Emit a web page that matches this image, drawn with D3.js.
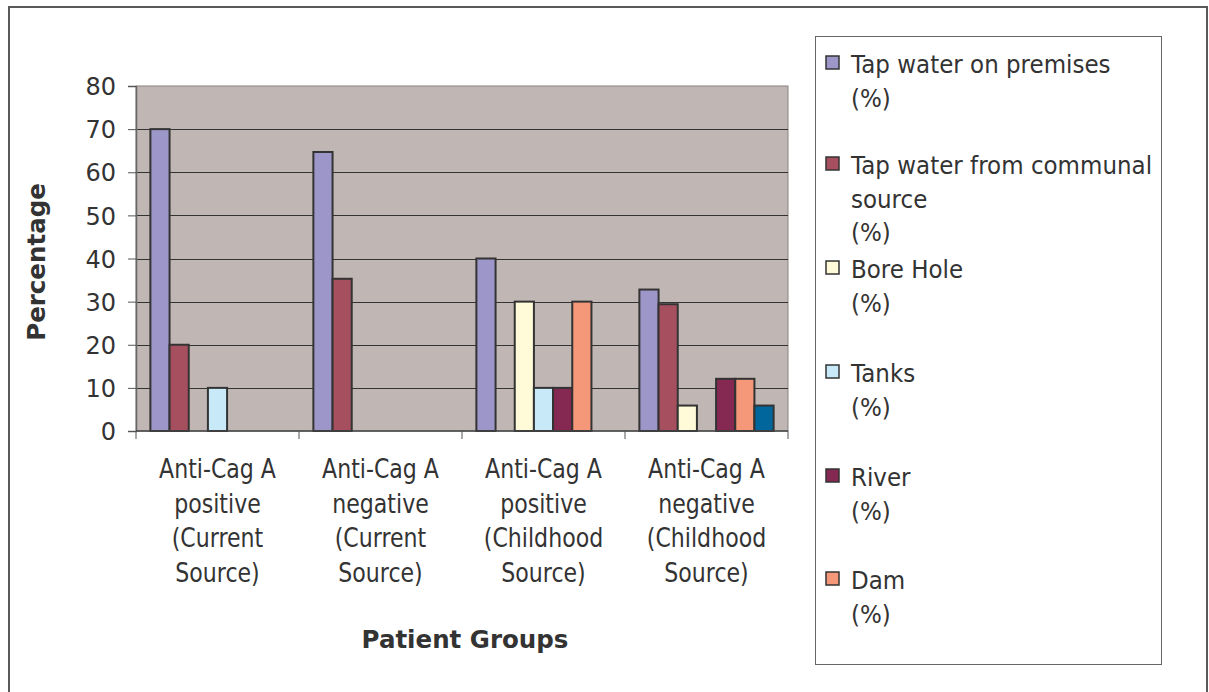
<!DOCTYPE html>
<html>
<head>
<meta charset="utf-8">
<script src="https://cdn.jsdelivr.net/npm/d3@7"></script>
<style>
  html, body { margin: 0; padding: 0; background: #fff; }
  svg { display: block; }
  text { font-family: "DejaVu Sans", Verdana, sans-serif; fill: #333; }
</style>
</head>
<body>
<svg id="chart" width="1209" height="692"></svg>
<script>
// patient groups on the x axis (each label wraps over four lines)
const groups = ['g1', 'g2', 'g3', 'g4'];
const groupLabels = [
  ['Anti-Cag A', 'positive', '(Current', 'Source)'],
  ['Anti-Cag A', 'negative', '(Current', 'Source)'],
  ['Anti-Cag A', 'positive', '(Childhood', 'Source)'],
  ['Anti-Cag A', 'negative', '(Childhood', 'Source)']
];

// water sources, the 7th one is not shown in the legend (cut off in the original)
const sources = ['Tap water on premises', 'Tap water from communal source', 'Bore Hole', 'Tanks', 'River', 'Dam', 'Other'];
const legendLines = [
  ['Tap water on premises', '(%)'],
  ['Tap water from communal', 'source', '(%)'],
  ['Bore Hole', '(%)'],
  ['Tanks', '(%)'],
  ['River', '(%)'],
  ['Dam', '(%)']
];
const colors = ['#9d97c9', '#a6505f', '#fffbd8', '#c8e9f8', '#852952', '#f59779', '#00669b'];

// percentages per source, one value per group
const tapPremises  = [70, 64.7, 40, 32.8];
const tapCommunal  = [20, 35.3, 0, 29.4];
const boreHole     = [0, 0, 30, 5.9];
const tanks        = [10, 0, 10, 0];
const river        = [0, 0, 10, 12.1];
const dam          = [0, 0, 30, 12.1];
const other        = [0, 0, 0, 5.9];
const seriesValues = [tapPremises, tapCommunal, boreHole, tanks, river, dam, other];

const yTicks = [0, 10, 20, 30, 40, 50, 60, 70, 80];

const svg = d3.select('#chart');

// outer chart frame
svg.append('rect')
  .attr('x', 9).attr('y', 7)
  .attr('width', 1198).attr('height', 700)
  .attr('fill', '#fff')
  .attr('stroke', '#5a5a5a')
  .attr('stroke-width', 2);

const plot = { left: 136, right: 788, top: 86, bottom: 431 };

const y = d3.scaleLinear().domain([0, 80]).range([plot.bottom, plot.top]);
const x = d3.scaleBand().domain(groups).range([plot.left, plot.right]);
const xs = d3.scaleBand().domain(sources).range([0, x.bandwidth()]).paddingOuter(0.75);

// plot background
svg.append('rect')
  .attr('x', plot.left).attr('y', plot.top)
  .attr('width', plot.right - plot.left).attr('height', plot.bottom - plot.top)
  .attr('fill', '#c0b7b5')
  .attr('stroke', '#8a8282')
  .attr('stroke-width', 1);

// gridlines
svg.append('g')
  .selectAll('line')
  .data(yTicks.filter(d => d > 0 && d < 80))
  .join('line')
  .attr('x1', plot.left).attr('x2', plot.right)
  .attr('y1', d => Math.round(y(d)) + 0.5).attr('y2', d => Math.round(y(d)) + 0.5)
  .attr('stroke', '#333')
  .attr('stroke-width', 1.2);

// bars
const rows = [];
seriesValues.forEach((vals, si) => {
  vals.forEach((v, gi) => {
    if (v > 0) rows.push({ group: groups[gi], source: sources[si], value: v, color: colors[si] });
  });
});

svg.append('g')
  .selectAll('rect')
  .data(rows)
  .join('rect')
  .attr('x', d => x(d.group) + xs(d.source))
  .attr('y', d => y(d.value))
  .attr('width', xs.bandwidth())
  .attr('height', d => y(0) - y(d.value))
  .attr('fill', d => d.color)
  .attr('stroke', '#333')
  .attr('stroke-width', 2);

// y axis
const yAxis = svg.append('g')
  .attr('transform', `translate(${plot.left},0)`)
  .call(d3.axisLeft(y).tickValues(yTicks).tickSize(8).tickPadding(12));
yAxis.select('.domain').attr('stroke', '#666').attr('stroke-width', 1.5);
yAxis.selectAll('.tick line').attr('stroke', '#555');
yAxis.selectAll('.tick text')
  .style('font-family', '"DejaVu Sans", Verdana, sans-serif')
  .style('font-size', '24px')
  .attr('fill', '#333')
  .attr('dy', '0.36em');

// x axis line + category ticks
svg.append('line')
  .attr('x1', plot.left).attr('x2', plot.right)
  .attr('y1', plot.bottom).attr('y2', plot.bottom)
  .attr('stroke', '#444').attr('stroke-width', 1.5);
svg.append('g')
  .selectAll('line')
  .data(groups.concat(['end']))
  .join('line')
  .attr('x1', d => d === 'end' ? plot.right : x(d))
  .attr('x2', d => d === 'end' ? plot.right : x(d))
  .attr('y1', plot.bottom).attr('y2', plot.bottom + 8)
  .attr('stroke', '#555');

// category labels (narrow font in the original)
const catG = svg.append('g');
groups.forEach((g, gi) => {
  const cx = x(g) + x.bandwidth() / 2;
  groupLabels[gi].forEach((line, li) => {
    catG.append('text')
      .attr('transform', `translate(${cx},${478 + li * 34.5}) scale(0.85,1)`)
      .attr('text-anchor', 'middle')
      .style('font-size', '26px')
      .text(line);
  });
});

// axis titles
svg.append('text')
  .attr('x', 465)
  .attr('y', 648)
  .attr('text-anchor', 'middle')
  .style('font-size', '24.5px')
  .style('font-weight', 'bold')
  .text('Patient Groups');

svg.append('text')
  .attr('transform', 'translate(45,262) rotate(-90)')
  .attr('text-anchor', 'middle')
  .style('font-size', '24.5px')
  .style('font-weight', 'bold')
  .text('Percentage');

// legend
const legend = svg.append('g');
legend.append('rect')
  .attr('x', 815.5).attr('y', 36.5)
  .attr('width', 346).attr('height', 628)
  .attr('fill', '#fff')
  .attr('stroke', '#666')
  .attr('stroke-width', 1);

const entryY = [63, 164, 268, 372, 476, 579];
legendLines.forEach((lines, i) => {
  legend.append('rect')
    .attr('x', 826).attr('y', entryY[i] - 7)
    .attr('width', 13).attr('height', 13)
    .attr('fill', colors[i])
    .attr('stroke', '#333')
    .attr('stroke-width', 1.5);
  lines.forEach((t, li) => {
    legend.append('text')
      .attr('transform', `translate(851,${entryY[i] + 10 + li * 33.5}) scale(0.92,1)`)
      .style('font-size', '25px')
      .text(t);
  });
});
</script>
</body>
</html>
